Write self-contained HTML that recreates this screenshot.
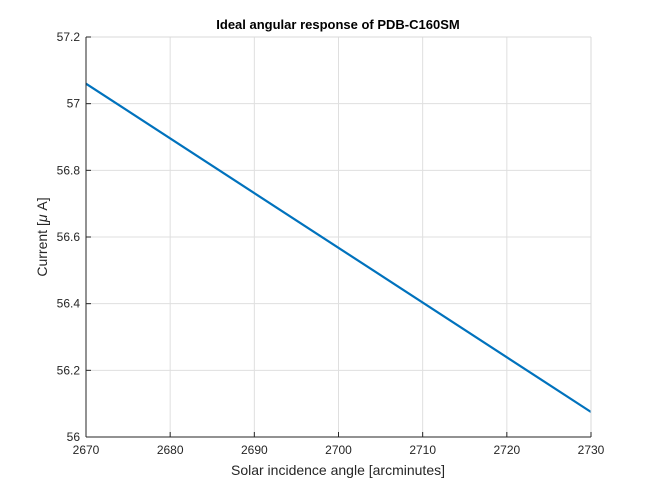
<!DOCTYPE html>
<html><head><meta charset="utf-8"><style>
body{margin:0;background:#fff;}
svg{display:block;font-family:"Liberation Sans",sans-serif;}
</style></head><body>
<svg id="chart" width="654" height="491">
<rect x="0" y="0" width="654" height="491" fill="#ffffff"/>
<rect x="86" y="37" width="505" height="400" fill="#ffffff"/>
<g id="grid"></g>
<g id="series"></g>
<line x1="86" y1="37" x2="591" y2="37" stroke="#d9d9d9"/>
<line x1="591" y1="37" x2="591" y2="437" stroke="#d9d9d9"/>
<line x1="86" y1="37" x2="86" y2="437" stroke="#262626"/>
<line x1="86" y1="437" x2="591" y2="437" stroke="#262626"/>
<g id="ticks"></g>
<text x="338" y="29" text-anchor="middle" font-size="13" font-weight="bold" fill="#000">Ideal angular response of PDB-C160SM</text>
<text x="338" y="475" text-anchor="middle" font-size="14" fill="#262626">Solar incidence angle [arcminutes]</text>
<text transform="translate(47,237) rotate(-90)" text-anchor="middle" font-size="14" fill="#262626">Current [<tspan font-style="italic">μ</tspan> A]</text>
</svg>
<script>
const xTicks=[2670,2680,2690,2700,2710,2720,2730];
const yTicks=[56,56.2,56.4,56.6,56.8,57,57.2];
const yTickLabels=["56","56.2","56.4","56.6","56.8","57","57.2"];
const angles=[2670,2730];
const currents=[57.06,56.075];
const L=86,R=591,T=37,B=437,x0=2670,x1=2730,y0=56,y1=57.2;
const sx=v=>L+(v-x0)/(x1-x0)*(R-L);
const sy=v=>B-(v-y0)/(y1-y0)*(B-T);
const NS="http://www.w3.org/2000/svg";
const grid=document.getElementById('grid'),ticks=document.getElementById('ticks'),series=document.getElementById('series');
function mk(t,a,p){const e=document.createElementNS(NS,t);for(const k in a)e.setAttribute(k,a[k]);p.appendChild(e);return e;}
xTicks.forEach(v=>{const x=sx(v);
const g=mk('line',{x1:x,x2:x,y1:T,y2:B,stroke:'#dfdfdf','stroke-width':1},grid);


const tk=mk('line',{x1:x,x2:x,y1:B,y2:B-5,stroke:'#262626'},ticks);


const t=mk('text',{x:x,y:B+17,'text-anchor':'middle','font-size':12,fill:'#262626'},ticks);t.textContent=v;

});
yTicks.forEach((v,i)=>{const y=sy(v);
const g=mk('line',{x1:L,x2:R,y1:y,y2:y,stroke:'#dfdfdf','stroke-width':1},grid);


const tk=mk('line',{x1:L,x2:L+5,y1:y,y2:y,stroke:'#262626'},ticks);


const t=mk('text',{x:L-6,y:y+4,'text-anchor':'end','font-size':12,fill:'#262626'},ticks);t.textContent=yTickLabels[i];

});
const pts=angles.map((a,i)=>sx(a)+','+sy(currents[i])).join(' ');
const pl=mk('polyline',{points:pts,fill:'none',stroke:'#0072bd','stroke-width':2.2},series);


</script>
</body></html>
